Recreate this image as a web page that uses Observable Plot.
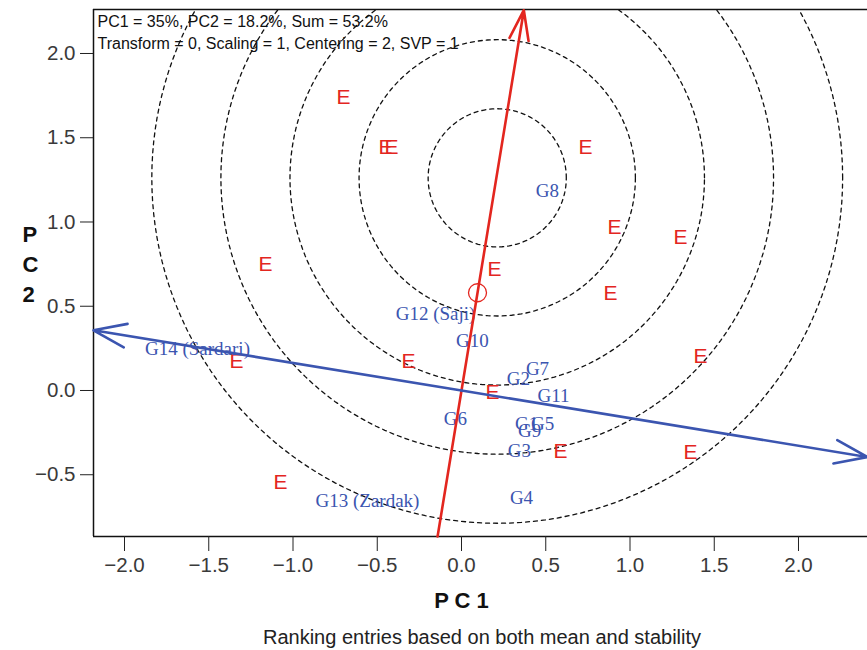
<!DOCTYPE html>
<html><head><meta charset="utf-8">
<script src="https://cdn.jsdelivr.net/npm/d3@7"></script>
<script src="https://cdn.jsdelivr.net/npm/@observablehq/plot@0.6"></script>
<style>
html,body{margin:0;padding:0;background:#fff;overflow:hidden;}
#chart{position:relative;width:867px;}
#cap{position:absolute;left:482px;top:622px;transform:translateX(-50%);white-space:nowrap;
  font-family:"Liberation Sans",Arial,sans-serif;font-size:20px;line-height:30px;color:#222;}
</style></head>
<body><div id="chart"></div><div id="cap">Ranking entries based on both mean and stability</div>
<script>
// ---- data ----
const xTicks = [-2.0, -1.5, -1.0, -0.5, 0.0, 0.5, 1.0, 1.5, 2.0];
const yTicks = [-0.5, 0.0, 0.5, 1.0, 1.5, 2.0];
const xDomain = [-2.184, 2.4095];
const yDomain = [-0.8665, 2.2611];

// environments (plotted as "E")
const envX = [-0.700, -0.451, -0.415, 0.736, 0.908, 1.300, -1.163, 0.196, 0.884, 1.418, -1.335, -0.315, 0.184, 0.588, 1.359, -1.074];
const envY = [ 1.739,  1.442,  1.442, 1.442, 0.967, 0.908,  0.748, 0.718, 0.576, 0.202,  0.172,  0.172, -0.012, -0.362, -0.368, -0.546];

// genotypes
const genoNames = ["G8", "G12 (Saji)", "G10", "G14 (Sardari)", "G7", "G2", "G11", "G6", "G1", "G5", "G9", "G3", "G4", "G13 (Zardak)"];
const genoX = [0.510, -0.154, 0.065, -1.567, 0.451, 0.338, 0.546, -0.036, 0.386, 0.481, 0.404, 0.344, 0.356, -0.558];
const genoY = [1.187,  0.457, 0.297,  0.249, 0.131, 0.071, -0.030, -0.166, -0.196, -0.196, -0.237, -0.356, -0.635, -0.653];

// average environment point, AEA axis ends, ATC axis ends
const aecPoint = [0.095, 0.58];
const aeaStart = [-0.142, -0.8665];
const aeaEnd = [0.370, 2.257];
const atcLeft = [-2.184, 0.357];
const atcRight = [2.4095, -0.395];

// ideal-genotype concentric rings
const ringCenter = [0.212, 1.262];
const ringStep = 0.41;
const ringCount = 5;

const infoLines = ["PC1 = 35%, PC2 = 18.2%, Sum = 53.2%", "Transform = 0, Scaling = 1, Centering = 2, SVP = 1"];

// ---- derived tables ----
const envs = envX.map((x, i) => ({x, y: envY[i]}));
const genos = genoNames.map((name, i) => ({name, x: genoX[i], y: genoY[i]}));
const ringPts = [];
for (let k = 1; k <= ringCount; k++) {
  for (let a = 0; a <= 360; a += 2) {
    const t = a * Math.PI / 180;
    ringPts.push({k, x: ringCenter[0] + k * ringStep * Math.cos(t), y: ringCenter[1] + k * ringStep * Math.sin(t)});
  }
}
const red = "#e3261f", blue = "#3b55b0";

const plot = Plot.plot({
  width: 867, height: 622,
  marginLeft: 93, marginRight: 0, marginTop: 9, marginBottom: 86,
  x: {domain: xDomain},
  y: {domain: yDomain},
  style: {fontFamily: "'Liberation Sans', Arial, sans-serif", background: "#fff", color: "#222", overflow: "visible"},
  marks: [
    Plot.line(ringPts, {x: "x", y: "y", z: "k", stroke: "#111", strokeWidth: 1.3, strokeDasharray: "4,4", clip: true}),
    Plot.ruleX([xDomain[0]], {stroke: "#111", strokeWidth: 1.5}),
    Plot.ruleY([yDomain[0], yDomain[1]], {stroke: "#111", strokeWidth: 1.5}),
    Plot.axisX({ticks: xTicks, tickSize: 15, tickPadding: 6, fontSize: 20.5, tickFormat: d3.format(".1f"), label: null, stroke: "#222", fill: "#3a3a3a"}),
    Plot.axisY({ticks: yTicks, tickSize: 13, tickPadding: 5, fontSize: 20.5, tickFormat: d3.format(".1f"), label: null, stroke: "#222", fill: "#3a3a3a"}),
    Plot.text(envs, {x: "x", y: "y", text: () => "E", fill: red, fontSize: 21}),
    Plot.text(genos, {x: "x", y: "y", text: "name", fill: blue, fontSize: 19, fontFamily: "'Liberation Serif', 'Times New Roman', serif"}),
    Plot.arrow([{x1: aeaStart[0], y1: aeaStart[1], x2: aeaEnd[0], y2: aeaEnd[1]}],
      {x1: "x1", y1: "y1", x2: "x2", y2: "y2", stroke: red, strokeWidth: 2.6, headLength: 18, headAngle: 36}),
    Plot.arrow([{x1: 0, y1: 0, x2: atcLeft[0], y2: atcLeft[1]}, {x1: 0, y1: 0, x2: atcRight[0], y2: atcRight[1]}],
      {x1: "x1", y1: "y1", x2: "x2", y2: "y2", stroke: blue, strokeWidth: 2.6, headLength: 20, headAngle: 40}),
    Plot.dot([aecPoint], {x: d => d[0], y: d => d[1], r: 9, stroke: red, fill: "none", strokeWidth: 1.3}),
    Plot.text([infoLines.join("\n")], {frameAnchor: "top-left", dx: 4, dy: 2, textAnchor: "start", lineAnchor: "top", lineHeight: 1.375, fontSize: 16, fill: "#111"}),
    Plot.text(["P C 1"], {x: () => 0, frameAnchor: "bottom", dy: 71, fontSize: 22, fontWeight: "bold", fill: "#111"}),
    Plot.text(["P\nC\n2"], {y: () => 0.76, frameAnchor: "left", dx: -71, fontSize: 22, fontWeight: "bold", lineHeight: 1.36, fill: "#111"})
  ]
});
document.getElementById("chart").appendChild(plot);
</script>
</body></html>
